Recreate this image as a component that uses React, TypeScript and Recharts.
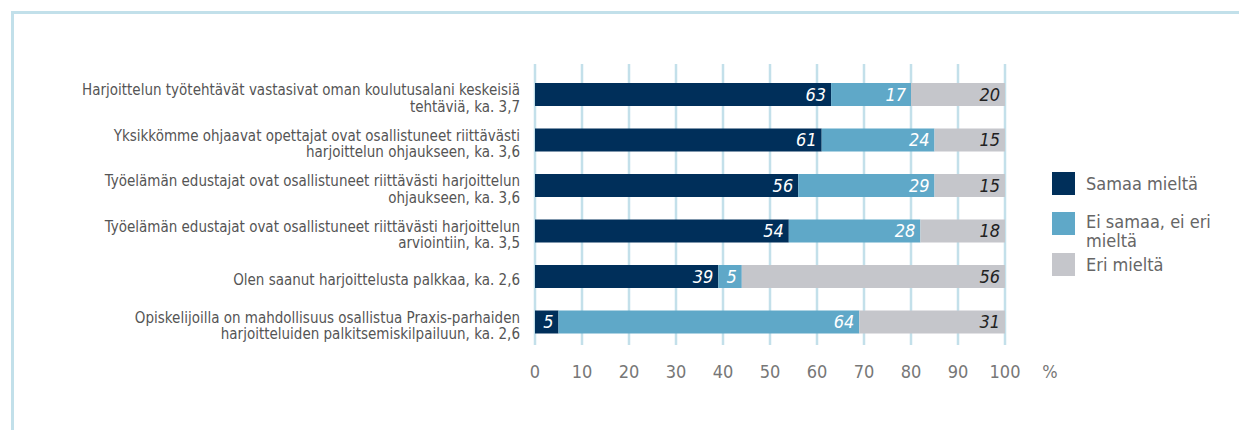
import React from "react"
import { Bar, BarChart, CartesianGrid, LabelList, XAxis, YAxis } from "recharts"

const categories = [
  "Harjoittelun työtehtävät vastasivat oman koulutusalani keskeisiä\ntehtäviä, ka. 3,7",
  "Yksikkömme ohjaavat opettajat ovat osallistuneet riittävästi\nharjoittelun ohjaukseen, ka. 3,6",
  "Työelämän edustajat ovat osallistuneet riittävästi harjoittelun\nohjaukseen, ka. 3,6",
  "Työelämän edustajat ovat osallistuneet riittävästi harjoittelun\narviointiin, ka. 3,5",
  "Olen saanut harjoittelusta palkkaa, ka. 2,6",
  "Opiskelijoilla on mahdollisuus osallistua Praxis-parhaiden\nharjoitteluiden palkitsemiskilpailuun, ka. 2,6",
]
const samaa = [63, 61, 56, 54, 39, 5]
const eiSamaa = [17, 24, 29, 28, 5, 64]
const eri = [20, 15, 15, 18, 56, 31]
const xTicks = [0, 10, 20, 30, 40, 50, 60, 70, 80, 90, 100]

const seriesNames = ["Samaa mieltä", "Ei samaa, ei eri mieltä", "Eri mieltä"]
const colors = ["#002f5a", "#5fa8c8", "#c5c6cb"]

const data = categories.map((name, i) => ({
  name,
  samaa: samaa[i],
  eiSamaa: eiSamaa[i],
  eri: eri[i],
}))

const FONT = "'DejaVu Sans Condensed', 'Liberation Sans Narrow', sans-serif"

function CategoryTick({ x, y, payload }: any) {
  const lines: string[] = String(payload.value).split("\n")
  const lh = 16.5
  const start = y + 4 - ((lines.length - 1) * lh) / 2
  return (
    <text x={x - 7} y={start} textAnchor="end" fill="#555" fontSize={15} fontFamily={FONT}>
      {lines.map((l, i) => (
        <tspan key={i} x={x - 7} y={start + i * lh} dominantBaseline="middle">
          {l}
        </tspan>
      ))}
    </text>
  )
}

function ValueTick({ x, y, payload }: any) {
  return (
    <g>
      <text x={x} y={y} dy={25} textAnchor="middle" fill="#777" fontSize={18} fontFamily={FONT}>
        {payload.value}
      </text>
      {payload.value === 100 && (
        <text x={x + 45} y={y} dy={25} textAnchor="middle" fill="#777" fontSize={18} fontFamily={FONT}>
          %
        </text>
      )}
    </g>
  )
}

function LegendBox() {
  const gaps = [17, 3, 0]
  return (
    <div
      style={{
        position: "absolute",
        left: 1052,
        top: 172,
        fontFamily: FONT,
        fontSize: 18,
        color: "#666",
        lineHeight: "19px",
      }}
    >
      {seriesNames.map((n, i) => (
        <div key={n} style={{ display: "flex", alignItems: "flex-start", marginBottom: gaps[i] }}>
          <div style={{ width: 23, height: 23, background: colors[i], flex: "none" }} />
          <div style={{ marginLeft: 11, width: 140, paddingTop: i === 1 ? 0 : 2 }}>{n}</div>
        </div>
      ))}
    </div>
  )
}

export default function App() {
  return (
    <div style={{ position: "absolute", left: 0, top: 0, width: 1239, height: 430, background: "#fff" }}>
      <div
        style={{
          position: "absolute",
          left: 11,
          top: 11,
          width: 1228,
          height: 419,
          borderLeft: "3px solid #c2e0ea",
          borderTop: "3px solid #c2e0ea",
        }}
      />
      <BarChart
        width={1239}
        height={430}
        data={data}
        layout="vertical"
        margin={{ top: 64, right: 234, bottom: 0, left: 0 }}
        barSize={23}
        style={{ position: "absolute", left: 0, top: 0 }}
      >
        <CartesianGrid horizontal={false} stroke="#c3e0ea" strokeWidth={2.5} />
        <XAxis
          type="number"
          domain={[0, 100]}
          ticks={xTicks}
          axisLine={false}
          tickLine={false}
          tick={<ValueTick />}
          interval={0}
          height={85}
        />
        <YAxis
          type="category"
          dataKey="name"
          width={535}
          axisLine={false}
          tickLine={false}
          tick={<CategoryTick />}
          padding={{ top: 8, bottom: 0 }}
          interval={0}
        />
        <Bar dataKey="samaa" stackId="a" fill={colors[0]} isAnimationActive={false}>
          <LabelList dataKey="samaa" position="insideRight" fill="#fff" fontSize={18} fontStyle="italic" fontFamily={FONT} />
        </Bar>
        <Bar dataKey="eiSamaa" stackId="a" fill={colors[1]} isAnimationActive={false}>
          <LabelList dataKey="eiSamaa" position="insideRight" fill="#fff" fontSize={18} fontStyle="italic" fontFamily={FONT} />
        </Bar>
        <Bar dataKey="eri" stackId="a" fill={colors[2]} isAnimationActive={false}>
          <LabelList dataKey="eri" position="insideRight" fill="#222" fontSize={18} fontStyle="italic" fontFamily={FONT} />
        </Bar>
      </BarChart>
      <LegendBox />
    </div>
  )
}
